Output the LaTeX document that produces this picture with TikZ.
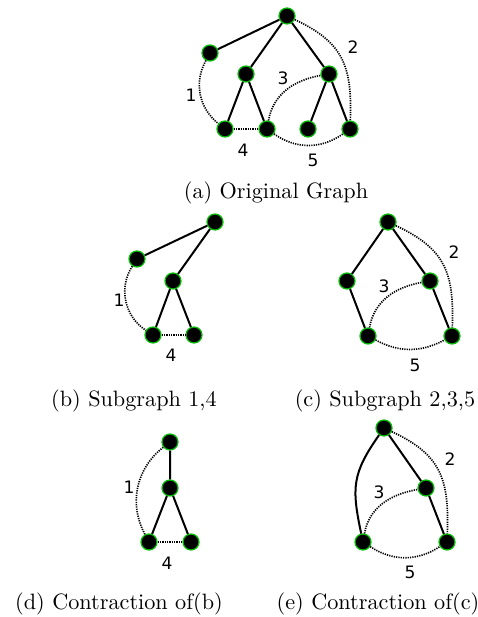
\documentclass[tikz,border=0pt]{standalone}
\usepackage{fontspec}
\newfontfamily\labfont{DejaVu Sans}
\definecolor{gcol}{rgb}{0,0.75,0}
\begin{document}
\begin{tikzpicture}[x=0.45pt,y=0.45pt,
  vtx/.style={circle,fill=black,draw=gcol,line width=0.55pt,minimum size=7.2pt,inner sep=0pt},
  sline/.style={line width=0.9pt},
  dline/.style={line width=0.75pt,dash pattern=on 0.55pt off 0.5pt},
  lab/.style={font=\labfont\fontsize{7.7}{9}\selectfont,inner sep=0pt},
  captext/.style={font=\fontsize{10}{12}\selectfont,inner sep=0pt}]
\useasboundingbox (0,0) rectangle (477,617);
% ---------- (a) ----------
\node[vtx] (ar) at (287,601) {};
\node[vtx] (al) at (210,564) {};
\node[vtx] (am) at (246,543) {};
\node[vtx] (an) at (329,543) {};
\node[vtx] (ab1) at (225,488) {};
\node[vtx] (ab2) at (267,488) {};
\node[vtx] (ab3) at (308,488) {};
\node[vtx] (ab4) at (350,488) {};
\draw[sline] (ar)--(al) (ar)--(am) (ar)--(an) (am)--(ab1) (am)--(ab2) (an)--(ab3) (an)--(ab4);
\draw[dline] (al) to[bend right=40] (ab1);
\draw[dline] (ab1)--(ab2);
\draw[dline] (ab2) to[out=80,in=190] (an);
\draw[dline] (ar) to[out=-25,in=88,looseness=1.2] (ab4);
\draw[dline] (ab2) to[bend right=35] (ab4);
\node[lab] (a1) at (191,522) {1};
\node[lab] (a2) at (353,570) {2};
\node[lab] (a3) at (283,539) {3};
\node[lab] (a4) at (243,467) {4};
\node[lab] (a5) at (313,457) {5};
\node[captext] (capa) at (276,424) {(a) Original Graph};
% ---------- (b) ----------
\node[vtx] (bt) at (215,395) {};
\node[vtx] (bl) at (137,358) {};
\node[vtx] (bm) at (173,336) {};
\node[vtx] (bb1) at (153,282) {};
\node[vtx] (bb2) at (194,282) {};
\draw[sline] (bt)--(bl) (bt)--(bm) (bm)--(bb1) (bm)--(bb2);
\draw[dline] (bl) to[bend right=45] (bb1);
\draw[dline] (bb1)--(bb2);
\node[lab] (b1) at (119,317) {1};
\node[lab] (b4) at (171,262) {4};
\node[captext] (capb) at (134,216) {(b) Subgraph 1,4};
% ---------- (c) ----------
\node[vtx] (ct) at (388,395) {};
\node[vtx] (cl) at (347,336) {};
\node[vtx] (cr) at (430,336) {};
\node[vtx] (cbl) at (368,281) {};
\node[vtx] (cbr) at (452,281) {};
\draw[sline] (ct)--(cl) (ct)--(cr) (cl)--(cbl) (cr)--(cbr);
\draw[dline] (ct) to[out=-25,in=88,looseness=1.2] (cbr);
\draw[dline] (cbl) to[out=80,in=190] (cr);
\draw[dline] (cbl) to[bend right=28] (cbr);
\node[lab] (c2) at (454,365) {2};
\node[lab] (c3) at (384,331) {3};
\node[lab] (c5) at (415,252) {5};
\node[captext] (capc) at (385,216) {(c) Subgraph 2,3,5};
% ---------- (d) ----------
\node[vtx] (dt) at (170,175) {};
\node[vtx] (dm) at (170,129) {};
\node[vtx] (db1) at (149,75) {};
\node[vtx] (db2) at (191,75) {};
\draw[sline] (dt)--(dm) (dm)--(db1) (dm)--(db2);
\draw[dline] (dt) to[bend right=40] (db1);
\draw[dline] (db1)--(db2);
\node[lab] (d1) at (129,130) {1};
\node[lab] (d4) at (167,54) {4};
\node[captext] (capd) at (119,13) {(d) Contraction of(b)};
% ---------- (e) ----------
\node[vtx] (et) at (384,189) {};
\node[vtx] (er) at (426,129) {};
\node[vtx] (ebl) at (363,75) {};
\node[vtx] (ebr) at (447,75) {};
\draw[sline] (et)--(er) (er)--(ebr);
\draw[sline] (et) to[out=235,in=102,looseness=1.2] (ebl);
\draw[dline] (et) to[out=-25,in=88,looseness=1.2] (ebr);
\draw[dline] (ebl) to[out=80,in=190] (er);
\draw[dline] (ebl) to[bend right=33] (ebr);
\node[lab] (e2) at (450,158) {2};
\node[lab] (e3) at (379,125) {3};
\node[lab] (e5) at (410,45) {5};
\node[captext] (cape) at (378,13) {(e) Contraction of(c)};
\end{tikzpicture}
\end{document}
